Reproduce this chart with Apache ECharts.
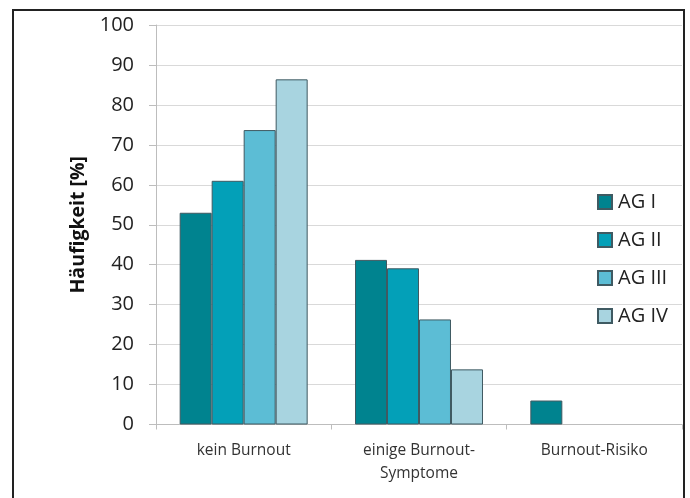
<!DOCTYPE html>
<html>
<head>
<meta charset="utf-8">
<script src="https://cdn.jsdelivr.net/npm/echarts@6/dist/echarts.min.js"></script>
<style>
html,body{margin:0;padding:0;background:#fff;}
#chart{width:690px;height:498px;}
</style>
</head>
<body>
<div id="chart"></div>
<script>
const categories = ['kein Burnout', 'einige Burnout-\nSymptome', 'Burnout-Risiko'];
const seriesNames = ['AG I', 'AG II', 'AG III', 'AG IV'];
const agI = [53, 41.2, 6];
const agII = [61, 39.1, 0];
const agIII = [73.7, 26.3, 0];
const agIV = [86.4, 13.8, 0];
const yTicks = [0, 10, 20, 30, 40, 50, 60, 70, 80, 90, 100];
const colors = ['#00838f', '#03a0b8', '#5cbdd5', '#a8d4e0'];

const values = [agI, agII, agIII, agIV];
const chart = echarts.init(document.getElementById('chart'));
chart.setOption({
  animation: false,
  textStyle: { fontFamily: 'Open Sans, Noto Sans, sans-serif' },
  graphic: [{
    type: 'rect',
    shape: { x: 13, y: 10, width: 671, height: 500 },
    style: { fill: 'none', stroke: '#222', lineWidth: 2 },
    z: 100
  }],
  grid: { left: 156, right: 8, top: 25, bottom: 73.5 },
  legend: {
    orient: 'vertical',
    left: 592,
    top: 187,
    itemWidth: 14,
    itemHeight: 14,
    itemGap: 18,
    icon: 'rect',
    data: seriesNames,
    textStyle: { fontSize: 20, color: '#222', padding: [0, 0, 0, 1] }
  },
  xAxis: {
    type: 'category',
    data: categories,
    axisLine: { lineStyle: { color: '#bdbdbd' } },
    axisTick: { show: true, length: 5, lineStyle: { color: '#bdbdbd' } },
    axisLabel: { fontSize: 15.5, color: '#333', margin: 15, lineHeight: 23 }
  },
  yAxis: {
    type: 'value',
    min: yTicks[0],
    max: yTicks[yTicks.length - 1],
    interval: 10,
    name: 'Häufigkeit [%]',
    nameLocation: 'middle',
    nameGap: 64,
    nameTextStyle: { fontSize: 19.5, fontWeight: 'bold', color: '#111' },
    axisLine: { show: true, lineStyle: { color: '#bdbdbd' } },
    axisTick: { show: true, length: 7, lineStyle: { color: '#bdbdbd' } },
    axisLabel: { fontSize: 20, color: '#222', margin: 22 },
    splitLine: { lineStyle: { color: '#d9d9d9' } }
  },
  series: seriesNames.map((n, i) => ({
    name: n,
    type: 'bar',
    data: values[i].map(v => ({ value: v, itemStyle: { borderWidth: v === 0 ? 0 : 1 } })),
    barGap: '0%',
    barCategoryGap: '27%',
    itemStyle: { color: colors[i], borderColor: '#3f5a62', borderWidth: 1 }
  }))
});
</script>
</body>
</html>
